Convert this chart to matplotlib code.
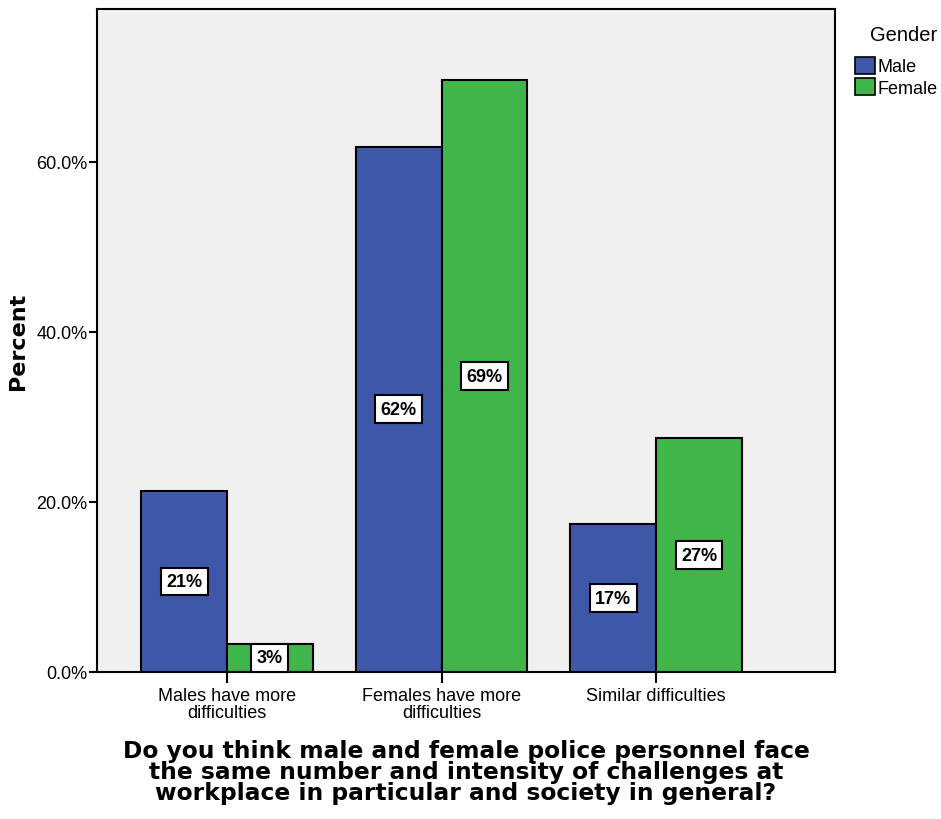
import matplotlib
matplotlib.use("Agg")
import matplotlib.pyplot as plt
import numpy as np
from matplotlib.patches import Patch

plt.rcParams['font.family'] = ['Liberation Sans', 'DejaVu Sans']

categories = ["Males have more\ndifficulties", "Females have more\ndifficulties", "Similar difficulties"]
series_names = ["Male", "Female"]
male_vals = [21.3, 61.8, 17.4]
female_vals = [3.3, 69.6, 27.5]
male_labels = ["21%", "62%", "17%"]
female_labels = ["3%", "69%", "27%"]
yticks = [0, 20, 40, 60]
ytick_labels = ["0.0%", "20.0%", "40.0%", "60.0%"]

blue = "#3F57A8"
green = "#40B549"

fig = plt.figure(figsize=(9.41, 8.2), dpi=100)
ax = fig.add_axes([97/941, 1-673/820, (835-97)/941, (673-10)/820])
ax.set_facecolor("#F0F0F0")

x = np.arange(len(categories))
w = 0.4
ax.bar(x - w/2, male_vals, width=w, color=blue, edgecolor="black", linewidth=1.5, zorder=2, label=series_names[0])
ax.bar(x + w/2, female_vals, width=w, color=green, edgecolor="black", linewidth=1.5, zorder=2, label=series_names[1])

box = dict(boxstyle="square,pad=0.3", facecolor="white", edgecolor="black", linewidth=1.5)
for xi, v, lab in zip(x - w/2, male_vals, male_labels):
    ax.text(xi, v/2, lab, ha="center", va="center", fontsize=13, fontweight="bold", bbox=box, zorder=3)
for xi, v, lab in zip(x + w/2, female_vals, female_labels):
    ax.text(xi, v/2, lab, ha="center", va="center", fontsize=13, fontweight="bold", bbox=box, zorder=3)

ax.set_xlim(-0.606, 2.834)
ax.set_ylim(0, 78)
ax.set_yticks(yticks)
ax.set_yticklabels(ytick_labels, fontsize=13)
ax.set_xticks(x)
ax.set_xticklabels(categories, fontsize=13, linespacing=0.95)
ax.tick_params(axis="y", direction="out", length=6, width=1.5, pad=1)
ax.tick_params(axis="x", direction="out", length=8, width=1.5, pad=3)
for s in ax.spines.values():
    s.set_linewidth(1.5)
    s.set_color("black")

ax.set_ylabel("Percent", fontsize=16, fontweight="bold", labelpad=6, family=["DejaVu Sans"])
ax.set_xlabel("Do you think male and female police personnel face\nthe same number and intensity of challenges at\nworkplace in particular and society in general?",
              fontsize=16.8, fontweight="bold", linespacing=0.9, labelpad=13, family=["DejaVu Sans"])

handles = [Patch(facecolor=blue, edgecolor="black", linewidth=1.2, label="Male"),
           Patch(facecolor=green, edgecolor="black", linewidth=1.2, label="Female")]
leg = fig.legend(handles=handles, title="Gender", loc="upper left",
                 bbox_to_anchor=(855/941, 1-26/820), frameon=False, fontsize=13,
                 title_fontsize=14.5, handlelength=1.1, handleheight=1.1, handletextpad=0.15,
                 borderpad=0, labelspacing=0.15, borderaxespad=0)
leg._legend_box.align = "right"
leg._legend_box.sep = 9

fig.savefig("out.png", dpi=100)
